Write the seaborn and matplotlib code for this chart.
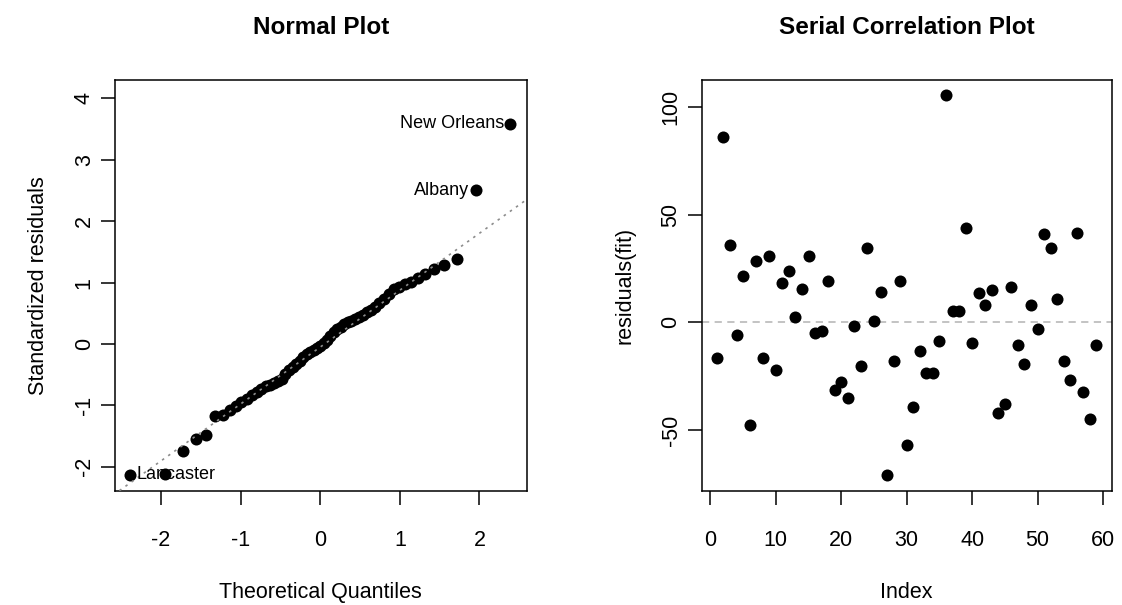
import matplotlib
matplotlib.use("Agg")
import matplotlib.pyplot as plt
import numpy as np
import pandas as pd
import seaborn as sns
from statistics import NormalDist

# Standardized residuals of the fitted model, smallest to largest
std_residuals = [
    -2.13, -2.11, -1.74, -1.55, -1.49, -1.17, -1.15, -1.08, -1.01, -0.95,
    -0.89, -0.83, -0.78, -0.73, -0.69, -0.66, -0.63, -0.60, -0.57, -0.49,
    -0.43, -0.38, -0.33, -0.28, -0.22, -0.17, -0.13, -0.10, -0.07, -0.03,
    0.02, 0.07, 0.13, 0.19, 0.24, 0.28, 0.32, 0.35, 0.38, 0.41,
    0.44, 0.48, 0.52, 0.55, 0.60, 0.66, 0.73, 0.82, 0.89, 0.93,
    0.97, 1.01, 1.07, 1.14, 1.22, 1.29, 1.38, 2.50, 3.59,
]

# Cities identified on the normal plot (position in the sorted residuals)
flagged_ranks = [1, 58, 59]
flagged_names = ["Lancaster", "Albany", "New Orleans"]

# Raw residuals in observation order
raw_residuals = [
    -16.6, 86.0, 36.0, -5.8, 21.7, -47.6, 28.6, -16.6, 31.0, -22.2,
    18.2, 23.7, 2.5, 15.5, 31.0, -5.0, -3.9, 19.0, -31.2, -27.6,
    -35.2, -1.6, -20.2, 34.6, 0.5, 14.2, -71.0, -18.0, 19.0, -57.0,
    -39.2, -13.3, -23.6, -23.6, -8.5, 105.4, 5.1, 5.1, 43.7, -9.6,
    13.5, 8.0, 15.0, -42.0, -38.0, 16.3, -10.4, -19.4, 8.0, -3.0,
    41.0, 34.6, 11.0, -18.0, -26.7, 41.7, -32.3, -44.7, -10.4,
]

sns.set_theme(style="ticks", rc={
    "axes.edgecolor": "black",
    "axes.linewidth": 1.1,
    "xtick.color": "black",
    "ytick.color": "black",
    "xtick.major.width": 1.1,
    "ytick.major.width": 1.1,
    "text.color": "black",
    "axes.labelcolor": "black",
})
plt.rcParams["font.family"] = ["Liberation Sans", "DejaVu Sans"]
plt.rcParams["axes.unicode_minus"] = False

fig = plt.figure(figsize=(11.22, 6.05), dpi=100)
ax1 = fig.add_axes([0.1025, 0.189, 0.3669, 0.6788])
ax2 = fig.add_axes([0.6254, 0.189, 0.3654, 0.6788])

tick_font = 15.5
label_font = 15.5
title_font = 17.5

# ---- Normal Q-Q plot ----
n = len(std_residuals)
nd = NormalDist()
theoretical = [nd.inv_cdf((i + 0.5) / n) for i in range(n)]
qq = pd.DataFrame({"theoretical": theoretical, "standardized": std_residuals})
sns.scatterplot(data=qq, x="theoretical", y="standardized", ax=ax1,
                color="black", s=75, linewidth=0, zorder=2)

# reference line through the first and third quartiles
q1, q3 = np.quantile(std_residuals, [0.25, 0.75])
t1, t3 = nd.inv_cdf(0.25), nd.inv_cdf(0.75)
slope = (q3 - q1) / (t3 - t1)
intercept = q1 - slope * t1
ax1.axline((0, intercept), slope=slope, color="#8c8c8c",
           linestyle=(0, (1.5, 3)), linewidth=1.2, zorder=3)

for rank, name in zip(flagged_ranks, flagged_names):
    x = theoretical[rank - 1]
    y = std_residuals[rank - 1]
    if x < 0:
        ax1.annotate(name, (x, y), xytext=(4.5, 0), textcoords="offset points",
                     ha="left", va="center", fontsize=13)
    else:
        ax1.annotate(name, (x, y), xytext=(-4.5, 0), textcoords="offset points",
                     ha="right", va="center", fontsize=13)

ax1.set_xlim(-2.579, 2.593)
ax1.set_ylim(-2.389, 4.30)
ax1.set_xticks([-2, -1, 0, 1, 2])
ax1.set_yticks([-2, -1, 0, 1, 2, 3, 4])
ax1.set_title("Normal Plot", fontsize=title_font, fontweight="bold", pad=33)
ax1.set_xlabel("Theoretical Quantiles", fontsize=label_font, labelpad=23)
ax1.set_ylabel("Standardized residuals", fontsize=label_font, labelpad=18)

# ---- Serial correlation plot ----
idx = np.arange(1, len(raw_residuals) + 1)
serial = pd.DataFrame({"Index": idx, "residuals": raw_residuals})
ax2.axhline(0, color="#bebebe", linestyle=(0, (4, 3)), linewidth=1.3, zorder=1)
sns.scatterplot(data=serial, x="Index", y="residuals", ax=ax2,
                color="black", s=75, linewidth=0, zorder=2)
ax2.set_xlim(-1.32, 61.32)
ax2.set_ylim(-78.06, 112.46)
ax2.set_xticks([0, 10, 20, 30, 40, 50, 60])
ax2.set_yticks([-50, 0, 50, 100])
ax2.set_title("Serial Correlation Plot", fontsize=title_font, fontweight="bold", pad=33)
ax2.set_xlabel("Index", fontsize=label_font, labelpad=23)
ax2.set_ylabel("residuals(fit)", fontsize=label_font, labelpad=18)

for ax in (ax1, ax2):
    ax.tick_params(axis="both", direction="out", length=10, labelsize=tick_font)
    ax.tick_params(axis="x", pad=18)
    ax.tick_params(axis="y", pad=4.5, labelrotation=90)
    for lab in ax.get_yticklabels():
        lab.set_verticalalignment("center")
    for s in ax.spines.values():
        s.set_visible(True)

fig.savefig("out.png", dpi=100)
